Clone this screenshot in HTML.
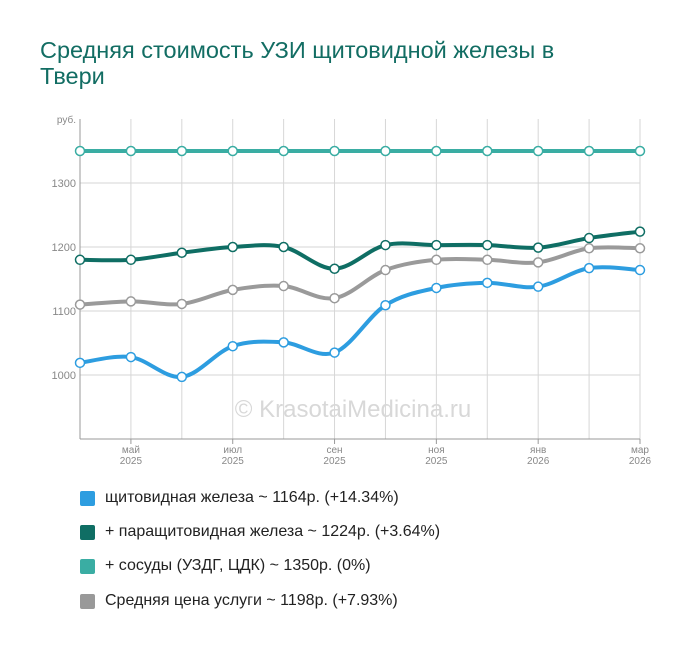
<!DOCTYPE html>
<html><head><meta charset="utf-8"><style>
body{margin:0;background:#fff;font-family:"Liberation Sans",sans-serif}
#wrap{position:relative;width:700px;height:650px}
h1{position:absolute;left:40px;top:37px;margin:0;font-weight:normal;font-size:23.5px;line-height:26px;color:#126d63;width:540px}
.leg{position:absolute;left:80px;font-size:16px;color:#222;display:flex;align-items:center}
.leg i{display:inline-block;width:15px;height:15px;border-radius:2px;margin-right:10px}
</style></head><body><div id="wrap">
<h1>Средняя стоимость УЗИ щитовидной железы в Твери</h1>
<svg id="c" width="700" height="650" style="position:absolute;left:0;top:0"></svg>
<div class="leg" style="top:489px"><i style="background:#2d9de0"></i>щитовидная железа ~ 1164р. (+14.34%)</div>
<div class="leg" style="top:523px"><i style="background:#0f6e64"></i>+ паращитовидная железа ~ 1224р. (+3.64%)</div>
<div class="leg" style="top:557px"><i style="background:#3aada3"></i>+ сосуды (УЗДГ, ЦДК) ~ 1350р. (0%)</div>
<div class="leg" style="top:592px"><i style="background:#999"></i>Средняя цена услуги ~ 1198р. (+7.93%)</div>
</div>
<script>
const months=["апр","май","июн","июл","авг","сен","окт","ноя","дек","янв","фев","мар"];
const years=["2025","2025","2025","2025","2025","2025","2025","2025","2025","2026","2026","2026"];
const yTicks=[1000,1100,1200,1300];
const thyroid=[1019,1028,997,1045,1051,1035,1109,1136,1144,1138,1167,1164];
const parathyroid=[1180,1180,1191,1200,1200,1166,1203,1203,1203,1199,1214,1224];
const vessels=[1350,1350,1350,1350,1350,1350,1350,1350,1350,1350,1350,1350];
const average=[1110,1115,1111,1133,1139,1120,1164,1180,1180,1176,1198,1198];
const NS="http://www.w3.org/2000/svg",svg=document.getElementById('c');
const X=i=>80+i*(560/11), Y=v=>375-(v-1000)*0.64;
function mk(t,a,p){const e=document.createElementNS(NS,t);for(const k in a)e.setAttribute(k,a[k]);(p||svg).appendChild(e);return e;}
for(const t of yTicks){const l=mk('line',{x1:80,x2:640,y1:Y(t),y2:Y(t),stroke:'#d6d6d6'});


const tx=mk('text',{x:76,y:Y(t)+4,'text-anchor':'end','font-size':11,fill:'#888'});tx.textContent=t;

}
months.forEach((m,i)=>{if(i>0){const l=mk('line',{x1:X(i),x2:X(i),y1:119,y2:439,stroke:'#d6d6d6'});

}
if(i%2==1){mk('line',{x1:X(i),x2:X(i),y1:439,y2:444,stroke:'#999'});
const tx=mk('text',{x:X(i),y:453,'text-anchor':'middle','font-size':10,fill:'#888'});tx.textContent=m;


const ty=mk('text',{x:X(i),y:464,'text-anchor':'middle','font-size':10,fill:'#888'});ty.textContent=years[i];

}});
mk('line',{x1:80,x2:80,y1:119,y2:439,stroke:'#999'});
mk('line',{x1:80,x2:640,y1:439,y2:439,stroke:'#999'});
const ru=mk('text',{x:76,y:123,'text-anchor':'end','font-size':10,fill:'#888'});ru.textContent='руб.';


const wm=mk('text',{x:353,y:417,'text-anchor':'middle','font-size':24,fill:'#d8d8d8'});wm.textContent='© KrasotaiMedicina.ru';


function path(d){const p=d.map((v,i)=>[X(i),Y(v)]);let s=`M${p[0][0]},${p[0][1]}`;
for(let i=0;i<p.length-1;i++){const p0=p[Math.max(i-1,0)],p1=p[i],p2=p[i+1],p3=p[Math.min(i+2,p.length-1)];
s+=`C${p1[0]+(p2[0]-p0[0])/6},${p1[1]+(p2[1]-p0[1])/6} ${p2[0]-(p3[0]-p1[0])/6},${p2[1]-(p3[1]-p1[1])/6} ${p2[0]},${p2[1]}`;}return s;}
[[vessels,'#3aada3','vessels'],[average,'#9a9a9a','average'],[parathyroid,'#0f6e64','parathyroid'],[thyroid,'#2d9de0','thyroid']].forEach(([d,c,n])=>{
const l=mk('path',{d:path(d),fill:'none',stroke:c,'stroke-width':4});


d.forEach((v,i)=>{const pt=mk('circle',{cx:X(i),cy:Y(v),r:4.5,fill:'#fff',stroke:c,'stroke-width':1.5});

});});
</script></body></html>
